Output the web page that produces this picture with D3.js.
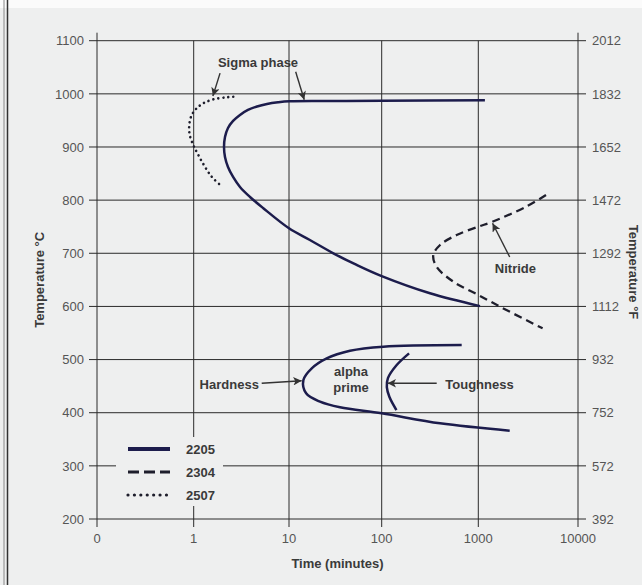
<!DOCTYPE html>
<html lang="en">
<head>
  <meta charset="UTF-8">
  <title>Precipitation curves 2205 / 2304 / 2507</title>
  <script src="https://d3js.org/d3.v7.min.js"></script>
  <style>
    body {
      margin: 0;
      background-color: #eeefef;
      font-family: "Liberation Sans", Arial, sans-serif;
    }

    .grid line {
      stroke: #2a2a2a;
      stroke-width: 1;
    }

    .tick-label {
      font-size: 13px;
      fill: #555;
    }

    .axis-title,
    .note,
    .legend-label {
      font-size: 13px;
      font-weight: bold;
      fill: #3a3a3a;
    }

    .curve {
      fill: none;
      stroke-linejoin: round;
    }

    .arrow {
      stroke: #333;
      stroke-width: 1.4;
    }
  </style>
</head>
<body>

<svg width="642" height="585"></svg>

<script>
  // axis ticks
  const timeTicks = [0.1, 1, 10, 100, 1000, 10000];
  const timeTickLabels = ["0", "1", "10", "100", "1000", "10000"];
  const tempTicksC = [200, 300, 400, 500, 600, 700, 800, 900, 1000, 1100];
  const tempTicksF = [392, 572, 752, 932, 1112, 1292, 1472, 1652, 1832, 2012];

  // curves, [time (min), temperature (°C)]
  const sigma2205 = [
    [1165, 988], [100, 987], [30, 986.5], [10.1, 986], [7.67, 984.1], [5.88, 981],
    [4.62, 976.3], [3.71, 969.7], [3.06, 960.3], [2.59, 949], [2.29, 935.8],
    [2.13, 918.8], [2.08, 900], [2.13, 881.2], [2.29, 862.4], [2.59, 843.6],
    [3.06, 824.8], [3.9, 805.9], [5.34, 785.2], [10, 747], [16.8, 725],
    [30.1, 700], [53.7, 678], [100, 657], [316, 624.7], [1040, 600.6]
  ];
  const hardness2205 = [
    [673, 527.4], [104, 524.2], [45.5, 516.6], [25.5, 502.3], [17.6, 483.5],
    [14.3, 461.5], [15.3, 436.5], [21.6, 420.7], [35.5, 410.1], [100, 398.8],
    [402, 380], [2065, 366.1]
  ];
  const toughness2205 = [
    [192, 511.7], [143, 489.7], [116, 465], [113, 448], [120, 430], [142, 405]
  ];
  const nitride2304 = [
    [4775, 809.6], [3020, 787.6], [1384, 759.4], [1000, 750], [597, 734.4],
    [402, 715.6], [342, 696.7], [370, 674.7], [552, 646.5], [1000, 621.5],
    [1915, 593.2], [4416, 558.8]
  ];
  const sigma2507 = [
    [2.6, 994.6], [2.22, 993.5], [1.61, 989.7], [1.26, 982.2], [1.075, 972.8],
    [0.953, 960], [0.9, 941.4], [0.91, 922.5], [0.99, 903.7], [1.117, 885],
    [1.31, 863], [1.545, 844], [1.86, 830]
  ];

  const grades = ["2205", "2304", "2507"];

  // annotations: label position and arrows (tail -> head), data units
  const notes = [
    { text: "Sigma phase", at: [4.73, 1060] },
    { text: "Nitride", at: [2355, 671.7] },
    { text: "Hardness", at: [2.36, 453.4] },
    { text: "alpha", at: [46.7, 477.1] },
    { text: "prime", at: [46.7, 447.8] },
    { text: "Toughness", at: [1028, 453.4] }
  ];
  const arrows = [
    [[1.89, 1039], [1.59, 996]],
    [[11.8, 1041.7], [14.6, 989]],
    [[2065, 693], [1390, 756.4]],
    [[5.17, 455.3], [13.7, 460.2]],
    [[371, 455.3], [115, 455.3]]
  ];

  const svg = d3.select("svg");

  // scanned axis is not perfectly even, so use a piecewise log scale
  const x = d3.scaleLog()
    .domain(timeTicks)
    .range([97, 193.7, 289, 381.7, 478.3, 578]);
  const y = d3.scaleLinear().domain([200, 1100]).range([519, 40.7]);
  const yF = d3.scaleLinear().domain([392, 2012]).range([519, 40.7]);

  const x0 = x.range()[0], x1 = x.range()[5];
  const yTop = y(1100), yBot = y(200);
  const tick = 8;

  // page frame
  svg.append("rect").attr("width", 642).attr("height", 8).attr("fill", "#fbfbfb");
  svg.append("line").attr("x1", 4).attr("x2", 4).attr("y1", 0).attr("y2", 585)
    .attr("stroke", "#888").attr("stroke-width", 1);
  svg.append("line").attr("x1", 7.5).attr("x2", 7.5).attr("y1", 0).attr("y2", 585)
    .attr("stroke", "#333").attr("stroke-width", 1.5);

  const grid = svg.append("g").attr("class", "grid");

  grid.selectAll(".h")
    .data(tempTicksC)
    .join("line")
    .attr("x1", x0 - tick)
    .attr("x2", x1 + tick)
    .attr("y1", d => y(d))
    .attr("y2", d => y(d));

  grid.selectAll(".v")
    .data(timeTicks)
    .join("line")
    .attr("x1", d => x(d))
    .attr("x2", d => x(d))
    .attr("y1", (d, i) => (i === 0 || i === timeTicks.length - 1) ? yTop - tick : yTop)
    .attr("y2", yBot + tick);

  // legend box hides the grid behind it
  const legendX = 116, legendY = 437;
  svg.append("rect")
    .attr("x", legendX)
    .attr("y", legendY)
    .attr("width", 107)
    .attr("height", 69)
    .attr("fill", "#eeefef");

  // tick labels
  svg.selectAll(".lc")
    .data(tempTicksC)
    .join("text")
    .attr("class", "tick-label")
    .attr("x", x0 - tick - 5)
    .attr("y", d => y(d))
    .attr("dy", "0.36em")
    .attr("text-anchor", "end")
    .text(d => d);

  svg.selectAll(".lf")
    .data(tempTicksF)
    .join("text")
    .attr("class", "tick-label")
    .attr("x", x1 + tick + 6)
    .attr("y", d => yF(d))
    .attr("dy", "0.36em")
    .text(d => d);

  svg.selectAll(".lt")
    .data(timeTicks)
    .join("text")
    .attr("class", "tick-label")
    .attr("x", d => x(d))
    .attr("y", yBot + 24)
    .attr("text-anchor", "middle")
    .text((d, i) => timeTickLabels[i]);

  svg.append("text")
    .attr("class", "axis-title")
    .attr("x", (x0 + x1) / 2)
    .attr("y", yBot + 49)
    .attr("text-anchor", "middle")
    .text("Time (minutes)");

  svg.append("text")
    .attr("class", "axis-title")
    .attr("transform", `translate(44,${(yTop + yBot) / 2}) rotate(-90)`)
    .attr("text-anchor", "middle")
    .text("Temperature °C");

  svg.append("text")
    .attr("class", "axis-title")
    .attr("transform", `translate(629,272) rotate(90)`)
    .attr("text-anchor", "middle")
    .text("Temperature °F");

  // curves
  const line = d3.line()
    .x(d => x(d[0]))
    .y(d => y(d[1]))
    .curve(d3.curveCatmullRom.alpha(0.5));

  const styles = {
    "2205": { stroke: "#1c1c4c", width: 2.5, dash: null, cap: "butt" },
    "2304": { stroke: "#1e1e2c", width: 2.3, dash: "8,5", cap: "butt" },
    "2507": { stroke: "#1e1e2c", width: 2.6, dash: "0.01,5", cap: "round" }
  };

  const curves = [
    { grade: "2205", pts: sigma2205 },
    { grade: "2205", pts: hardness2205 },
    { grade: "2205", pts: toughness2205 },
    { grade: "2304", pts: nitride2304 },
    { grade: "2507", pts: sigma2507 }
  ];

  svg.selectAll(".curve")
    .data(curves)
    .join("path")
    .attr("class", "curve")
    .attr("d", d => line(d.pts))
    .attr("stroke", d => styles[d.grade].stroke)
    .attr("stroke-width", d => styles[d.grade].width)
    .attr("stroke-dasharray", d => styles[d.grade].dash)
    .attr("stroke-linecap", d => styles[d.grade].cap);

  // legend
  const legend = svg.selectAll(".legend")
    .data(grades)
    .join("g")
    .attr("transform", (d, i) => `translate(${legendX + 12},${legendY + 12 + i * 23})`);

  legend.append("line")
    .attr("x1", 0)
    .attr("x2", 42)
    .attr("stroke", d => styles[d].stroke)
    .attr("stroke-width", d => d === "2205" ? 4 : 3.2)
    .attr("stroke-dasharray", d => d === "2304" ? "11,5" : d === "2507" ? "0.01,6.4" : null)
    .attr("stroke-linecap", d => styles[d].cap);

  legend.append("text")
    .attr("class", "legend-label")
    .attr("x", 58)
    .attr("dy", "0.36em")
    .text(d => d);

  // annotations
  svg.append("defs").append("marker")
    .attr("id", "head")
    .attr("viewBox", "0 0 10 10")
    .attr("refX", 10)
    .attr("refY", 5)
    .attr("markerWidth", 7)
    .attr("markerHeight", 6)
    .attr("markerUnits", "strokeWidth")
    .attr("orient", "auto")
    .append("path")
    .attr("d", "M0,0L10,5L0,10L2.5,5Z")
    .attr("fill", "#333");

  svg.selectAll(".arrow")
    .data(arrows)
    .join("line")
    .attr("class", "arrow")
    .attr("x1", d => x(d[0][0]))
    .attr("y1", d => y(d[0][1]))
    .attr("x2", d => x(d[1][0]))
    .attr("y2", d => y(d[1][1]))
    .attr("marker-end", "url(#head)");

  svg.selectAll(".note")
    .data(notes)
    .join("text")
    .attr("class", "note")
    .attr("x", d => x(d.at[0]))
    .attr("y", d => y(d.at[1]))
    .attr("dy", "0.36em")
    .attr("text-anchor", "middle")
    .text(d => d.text);
</script>

</body>
</html>
